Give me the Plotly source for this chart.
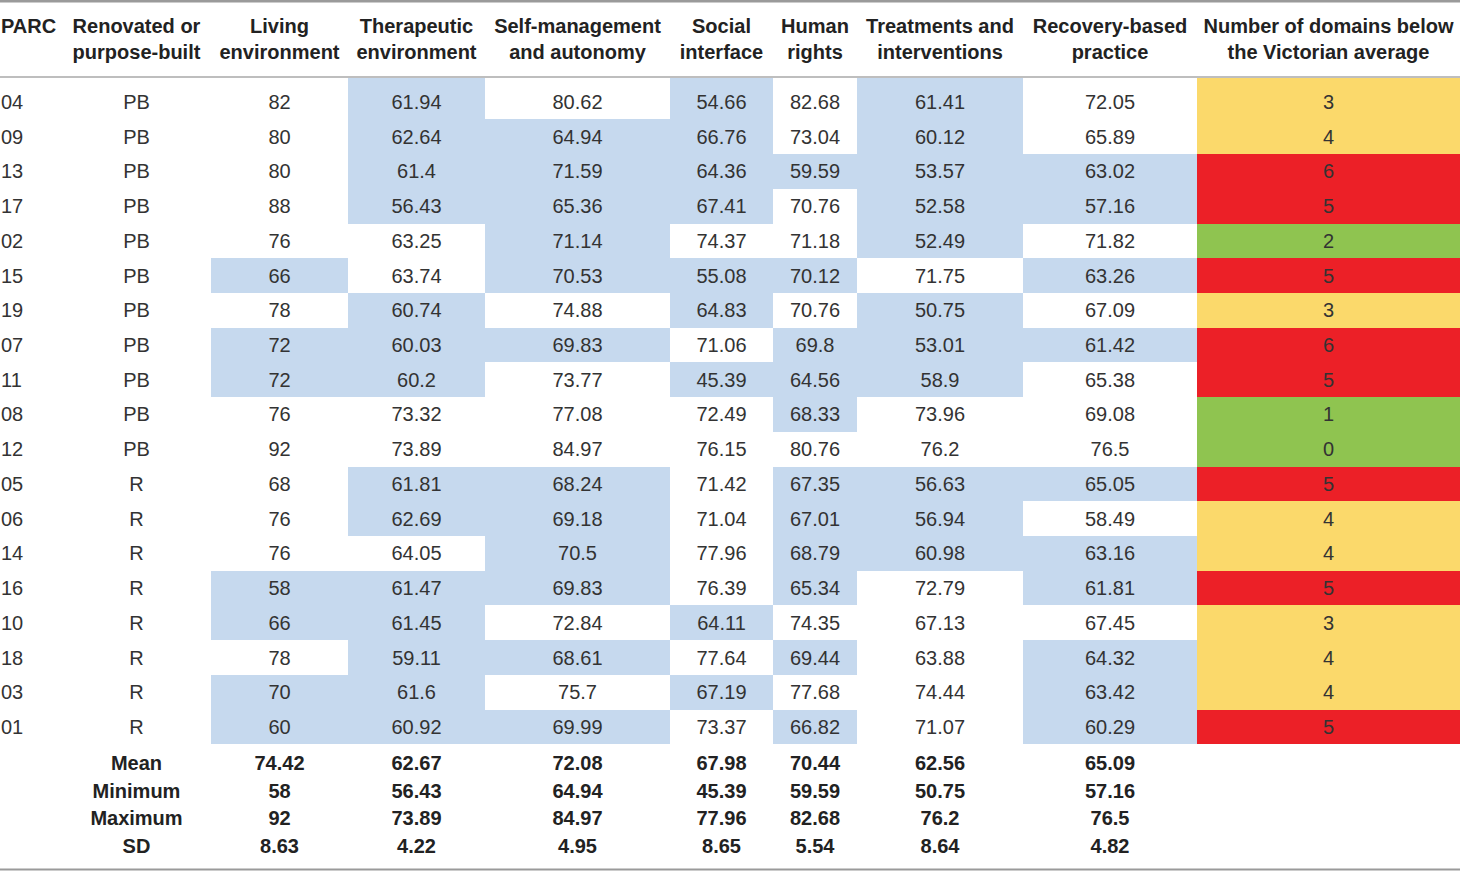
import plotly.graph_objects as go

# PARC domain scores, one entry per unit (table row order)
parc = ["04", "09", "13", "17", "02", "15", "19", "07", "11", "08", "12",
        "05", "06", "14", "16", "10", "18", "03", "01"]
build_type = ["PB"] * 11 + ["R"] * 8
living = [82, 80, 80, 88, 76, 66, 78, 72, 72, 76, 92, 68, 76, 76, 58, 66, 78, 70, 60]
therapeutic = [61.94, 62.64, 61.4, 56.43, 63.25, 63.74, 60.74, 60.03, 60.2, 73.32, 73.89,
               61.81, 62.69, 64.05, 61.47, 61.45, 59.11, 61.6, 60.92]
self_mgmt = [80.62, 64.94, 71.59, 65.36, 71.14, 70.53, 74.88, 69.83, 73.77, 77.08, 84.97,
             68.24, 69.18, 70.5, 69.83, 72.84, 68.61, 75.7, 69.99]
social = [54.66, 66.76, 64.36, 67.41, 74.37, 55.08, 64.83, 71.06, 45.39, 72.49, 76.15,
          71.42, 71.04, 77.96, 76.39, 64.11, 77.64, 67.19, 73.37]
human_rights = [82.68, 73.04, 59.59, 70.76, 71.18, 70.12, 70.76, 69.8, 64.56, 68.33, 80.76,
                67.35, 67.01, 68.79, 65.34, 74.35, 69.44, 77.68, 66.82]
treatments = [61.41, 60.12, 53.57, 52.58, 52.49, 71.75, 50.75, 53.01, 58.9, 73.96, 76.2,
              56.63, 56.94, 60.98, 72.79, 67.13, 63.88, 74.44, 71.07]
recovery = [72.05, 65.89, 63.02, 57.16, 71.82, 63.26, 67.09, 61.42, 65.38, 69.08, 76.5,
            65.05, 58.49, 63.16, 61.81, 67.45, 64.32, 63.42, 60.29]
domains_below = [3, 4, 6, 5, 2, 5, 3, 6, 5, 1, 0, 5, 4, 4, 5, 3, 4, 4, 5]

# 1 = score below the Victorian average (shaded blue)
# order: living, therapeutic, self-mgmt, social, human rights, treatments, recovery
below_avg = [
    [0, 1, 0, 1, 0, 1, 0],
    [0, 1, 1, 1, 0, 1, 0],
    [0, 1, 1, 1, 1, 1, 1],
    [0, 1, 1, 1, 0, 1, 1],
    [0, 0, 1, 0, 0, 1, 0],
    [1, 0, 1, 1, 1, 0, 1],
    [0, 1, 0, 1, 0, 1, 0],
    [1, 1, 1, 0, 1, 1, 1],
    [1, 1, 0, 1, 1, 1, 0],
    [0, 0, 0, 0, 1, 0, 0],
    [0, 0, 0, 0, 0, 0, 0],
    [0, 1, 1, 0, 1, 1, 1],
    [0, 1, 1, 0, 1, 1, 0],
    [0, 0, 1, 0, 1, 1, 1],
    [1, 1, 1, 0, 1, 0, 1],
    [1, 1, 0, 1, 0, 0, 0],
    [0, 1, 1, 0, 1, 0, 1],
    [1, 1, 0, 1, 0, 0, 1],
    [1, 1, 1, 0, 1, 0, 1],
]

summary_labels = ["Mean", "Minimum", "Maximum", "SD"]
mean = [74.42, 62.67, 72.08, 67.98, 70.44, 62.56, 65.09]
minimum = [58, 56.43, 64.94, 45.39, 59.59, 50.75, 57.16]
maximum = [92, 73.89, 84.97, 77.96, 82.68, 76.2, 76.5]
sd = [8.63, 4.22, 4.95, 8.65, 5.54, 8.64, 4.82]

headers = ["PARC", "Renovated or<br>purpose-built", "Living<br>environment",
           "Therapeutic<br>environment", "Self-management<br>and autonomy",
           "Social<br>interface", "Human<br>rights", "Treatments and<br>interventions",
           "Recovery-based<br>practice", "Number of domains below<br>the Victorian average"]

# layout (pixel-like axis units)
W, H = 1460, 871
COL_EDGES = [0, 62, 211, 348, 485, 670, 773, 857, 1023, 1197, 1460]
HEAD_Y = 41
HEAD_LINE_GAP = 13
HEAD_LINE = 77
ROW_TOP = 84.64
ROW_H = 34.72
SUM_TOP = 765
SUM_H = 27.6
TEXT_DY = 2
FONT = "Liberation Sans, Arial, sans-serif"
TXT = "#333333"
BOLD = "#222222"
SIZE = 20
BLUE, YELLOW, RED, GREEN = "#c6d9ee", "#fbd96b", "#ec2027", "#8fc450"

centers = [(a + b) / 2 for a, b in zip(COL_EDGES[:-1], COL_EDGES[1:])]
n = len(parc)
row_y = [ROW_TOP + ROW_H * (i + 0.5) + TEXT_DY for i in range(n)]
sum_y = [SUM_TOP + SUM_H * i for i in range(len(summary_labels))]
domains = [living, therapeutic, self_mgmt, social, human_rights, treatments, recovery]


def count_code(c):
    if c <= 2:
        return 4
    if c <= 4:
        return 2
    return 3


z = [row + [count_code(c)] for row, c in zip(below_avg, domains_below)]
y_edges = [HEAD_LINE + 1] + [ROW_TOP + ROW_H * (i + 1) for i in range(n)]
palette = ["#ffffff", BLUE, YELLOW, RED, GREEN]
cscale = []
for k, col in enumerate(palette):
    cscale += [[k / 5, col], [(k + 1) / 5, col]]

fig = go.Figure()
fig.add_trace(go.Heatmap(
    x=COL_EDGES[2:], y=y_edges, z=z,
    colorscale=cscale, zmin=-0.5, zmax=4.5, showscale=False,
    hoverinfo="skip", zsmooth=False,
))

# header (PARC sits on the first header line)
fig.add_trace(go.Scatter(
    x=[COL_EDGES[0] + 1], y=[HEAD_Y - HEAD_LINE_GAP], text=["<b>" + headers[0] + "</b>"],
    mode="text", textposition="middle right",
    textfont=dict(family=FONT, size=SIZE, color=BOLD), hoverinfo="skip",
))
fig.add_trace(go.Scatter(
    x=centers[1:], y=[HEAD_Y] * 9, text=["<b>" + h + "</b>" for h in headers[1:]],
    mode="text", textposition="middle center",
    textfont=dict(family=FONT, size=SIZE, color=BOLD), hoverinfo="skip",
))

# body
fig.add_trace(go.Scatter(
    x=[COL_EDGES[0] + 1] * n, y=row_y, text=parc,
    mode="text", textposition="middle right",
    textfont=dict(family=FONT, size=SIZE, color=TXT), hoverinfo="skip",
))
columns = [build_type] + domains + [domains_below]
for j, vals in enumerate(columns):
    fig.add_trace(go.Scatter(
        x=[centers[j + 1]] * n, y=row_y, text=[str(v) for v in vals],
        mode="text", textposition="middle center",
        textfont=dict(family=FONT, size=SIZE, color=TXT), hoverinfo="skip",
    ))

# summary rows
fig.add_trace(go.Scatter(
    x=[centers[1]] * len(summary_labels), y=sum_y,
    text=["<b>" + s + "</b>" for s in summary_labels],
    mode="text", textposition="middle center",
    textfont=dict(family=FONT, size=SIZE, color=BOLD), hoverinfo="skip",
))
stats = [mean, minimum, maximum, sd]
for j in range(len(domains)):
    fig.add_trace(go.Scatter(
        x=[centers[j + 2]] * len(stats), y=sum_y,
        text=["<b>" + str(s[j]) + "</b>" for s in stats],
        mode="text", textposition="middle center",
        textfont=dict(family=FONT, size=SIZE, color=BOLD), hoverinfo="skip",
    ))

# rules
for yv, w, c in [(1.2, 2.5, "#9a9a9a"), (HEAD_LINE, 1.5, "#a8a8a8"), (869.5, 2, "#9a9a9a")]:
    fig.add_shape(type="line", xref="paper", x0=0, x1=1, yref="y", y0=yv, y1=yv,
                  line=dict(color=c, width=w), layer="above")

fig.update_traces(cliponaxis=False, selector=dict(type="scatter"))
fig.update_layout(
    width=W, height=H, autosize=False, margin=dict(l=0, r=0, t=0, b=0),
    paper_bgcolor="white", plot_bgcolor="white", showlegend=False,
    xaxis=dict(range=[0, W], visible=False, fixedrange=True),
    yaxis=dict(range=[H, 0], visible=False, fixedrange=True),
)
fig.write_html("out.html", config={"displayModeBar": False},
               post_script="document.body.style.margin='0px';")
